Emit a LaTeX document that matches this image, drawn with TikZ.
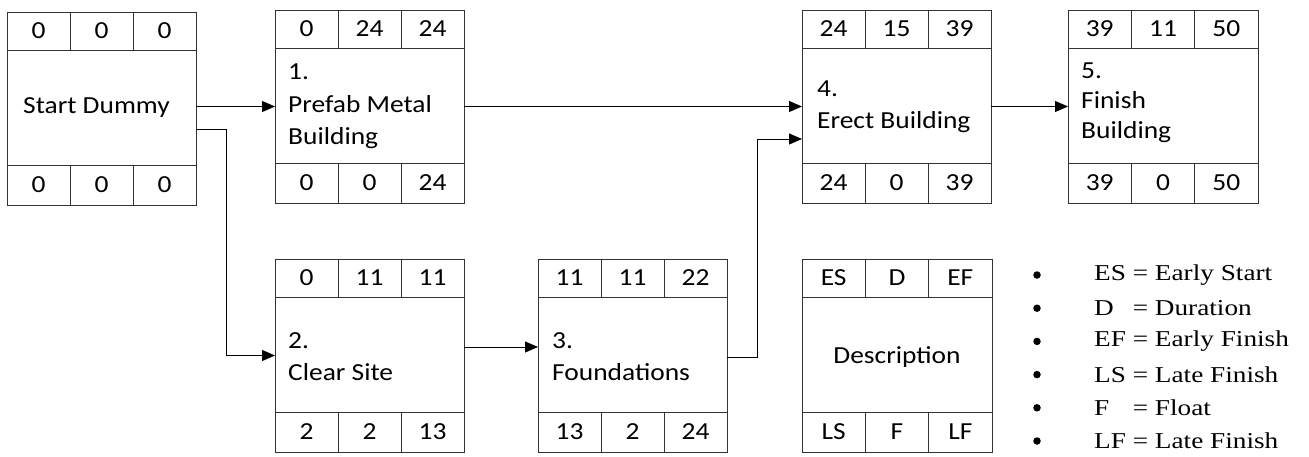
\documentclass[tikz,border=0pt]{standalone}
\usepackage{fontspec}
\setmainfont{Carlito}[FakeStretch=1.12]
\newfontfamily\legfont{Liberation Serif}[FakeStretch=1.2]
\usetikzlibrary{arrows.meta,calc}
\tikzset{
  boxline/.style={draw=black!80, line width=0.9pt, outer sep=0pt},
  frame/.style={boxline, rectangle, inner sep=0pt, anchor=north west, minimum height=193pt},
  cell/.style={boxline, rectangle, inner sep=0pt, anchor=north west, minimum height=38pt,
    font=\fontsize{24.5}{29}\selectfont},
  bcell/.style={cell, anchor=south west, minimum height=40pt},
  desc/.style={anchor=west, align=left, inner sep=0pt, font=\fontsize{24.5}{32.5}\selectfont},
  arr/.style={draw=black, line width=0.9pt, -{Triangle[length=13pt,width=11pt]}},
  legtext/.style={anchor=west, inner sep=0pt, font=\legfont\fontsize{22.7}{27}\selectfont},
  bul/.style={circle, fill=black, inner sep=0pt, minimum size=7.5pt},
}
\newcommand\toprow[4]{%
  \node[cell, minimum width=\cw] (#1t1) at (#1.north west) {#2};
  \node[cell, minimum width=\cw] (#1t2) at (#1t1.north east) {#3};
  \node[cell, minimum width=\cw] (#1t3) at (#1t2.north east) {#4};
}
\newcommand\botrow[4]{%
  \node[bcell, minimum width=\cw] (#1b1) at (#1.south west) {#2};
  \node[bcell, minimum width=\cw] (#1b2) at (#1b1.south east) {#3};
  \node[bcell, minimum width=\cw] (#1b3) at (#1b2.south east) {#4};
}
\begin{document}
\begin{tikzpicture}[x=1pt,y=-1pt]
\useasboundingbox (0,0) rectangle (1309,456);
\def\cw{63pt}

% Start Dummy
\node[frame, minimum width=189pt] (start) at (7,12) {};
\toprow{start}{0}{0}{0}
\botrow{start}{0}{0}{0}
\node[inner sep=0pt, font=\fontsize{24.5}{29}\selectfont] (sd) at ($(start.center)+(-5,-1)$) {Start Dummy};

% 1
\node[frame, minimum width=189pt] (b1) at (275,10) {};
\toprow{b1}{0}{24}{24}
\botrow{b1}{0}{0}{24}
\node[desc] (d1) at ($(b1.west)+(13,0)$) {1.\\Prefab Metal\\Building};

% 2
\node[frame, minimum width=189pt] (b2) at (275,259) {};
\toprow{b2}{0}{11}{11}
\botrow{b2}{2}{2}{13}
\node[desc] (d2) at ($(b2.west)+(13,1)$) {2.\\Clear Site};

% 3
\node[frame, minimum width=189pt] (b3) at (538,259) {};
\toprow{b3}{11}{11}{22}
\botrow{b3}{13}{2}{24}
\node[desc] (d3) at ($(b3.west)+(14,1)$) {3.\\Foundations};

% 4
\node[frame, minimum width=189pt] (b4) at (802,10) {};
\toprow{b4}{24}{15}{39}
\botrow{b4}{24}{0}{39}
\node[desc] (d4) at ($(b4.west)+(15,0)$) {4.\\Erect Building};

% 5
\node[frame, minimum width=190pt] (b5) at (1068,10) {};
\def\cw{63.333pt}
\toprow{b5}{39}{11}{50}
\botrow{b5}{39}{0}{50}
\node[desc, font=\fontsize{24.5}{30}\selectfont] (d5) at ($(b5.west)+(13,-4)$) {5.\\Finish\\Building};

% Legend box
\node[frame, minimum width=190pt] (lg) at (802,259) {};
\toprow{lg}{ES}{D}{EF}
\botrow{lg}{LS}{F}{LF}
\node[inner sep=0pt, font=\fontsize{24.5}{29}\selectfont] (ld) at ($(lg.center)+(0,1)$) {Description};

% Connectors
\draw[arr] (start.east |- b1.west) -- (b1.west);
\draw[arr] ($(start.east)+(0,20.5)$) -- ++(30,0) |- (b2.west);
\draw[arr] ($(b2.east)+(0,-8.5)$) -- ($(b3.west)+(0,-8.5)$);
\draw[arr] ($(b3.east)+(0,1.5)$) -- ++(30,0) |- ($(b4.west)+(0,32.5)$);
\draw[arr] (b1.east) -- (b4.west);
\draw[arr] (b4.east) -- (b5.west);

% Legend list
\foreach \i/\t in {0/{ES = Early Start},1/{\rlap{D}\phantom{ES} = Duration},2/{EF = Early Finish},3/{LS = Late Finish},4/{\rlap{F}\phantom{LS} = Float},5/{LF = Late Finish}}{
  \node[legtext] (l\i) at (1094,275+33.2*\i) {\t};
  \node[bul] (p\i) at (1037,275+33.2*\i) {};
}
\end{tikzpicture}
\end{document}
